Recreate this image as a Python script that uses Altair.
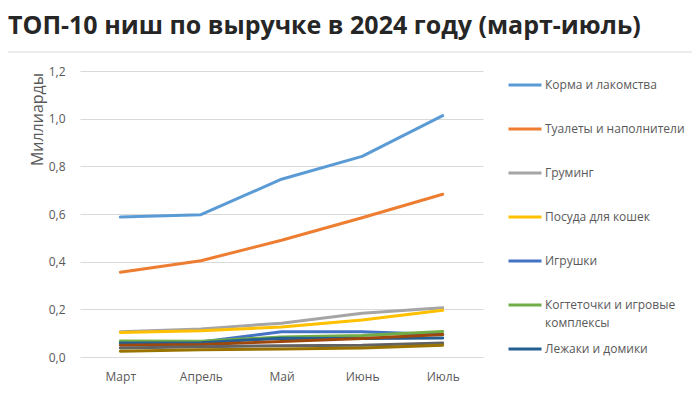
import altair as alt
import pandas as pd

months = ["Март", "Апрель", "Май", "Июнь", "Июль"]

series_names = [
    "Корма и лакомства",
    "Туалеты и наполнители",
    "Груминг",
    "Посуда для кошек",
    "Игрушки",
    "Когтеточки и игровые комплексы",
    "Лежаки и домики",
    "Ниша 8",
    "Ниша 9",
    "Ниша 10",
]

korma = [0.587, 0.597, 0.746, 0.842, 1.013]
tualety = [0.356, 0.404, 0.490, 0.584, 0.683]
gruming = [0.106, 0.118, 0.142, 0.184, 0.207]
posuda = [0.103, 0.110, 0.126, 0.155, 0.196]
igrushki = [0.063, 0.063, 0.106, 0.106, 0.094]
kogtetochki = [0.067, 0.066, 0.084, 0.090, 0.107]
lezhaki = [0.059, 0.060, 0.079, 0.078, 0.080]
nisha8 = [0.049, 0.052, 0.065, 0.078, 0.094]
nisha9 = [0.038, 0.043, 0.047, 0.049, 0.059]
nisha10 = [0.024, 0.030, 0.034, 0.038, 0.049]

colors = ["#5B9BD5", "#ED7D31", "#A5A5A5", "#FFC000", "#4472C4",
          "#70AD47", "#255E91", "#9E480E", "#636363", "#997300"]

all_values = [korma, tualety, gruming, posuda, igrushki,
              kogtetochki, lezhaki, nisha8, nisha9, nisha10]

rows = []
for name, vals in zip(series_names, all_values):
    for m, v in zip(months, vals):
        rows.append({"series": name, "month": m, "value": v})
df = pd.DataFrame(rows)

FONT = "Open Sans"
GREY = "#595959"

lines = alt.Chart(df).mark_line(strokeWidth=3, strokeCap="round", strokeJoin="round").encode(
    x=alt.X("month:N", sort=months, scale=alt.Scale(paddingOuter=0.5, paddingInner=0),
            axis=alt.Axis(title=None, labelAngle=0, domain=False, ticks=False,
                          labelPadding=14, labelFontSize=12, labelColor=GREY, labelFont=FONT)),
    y=alt.Y("value:Q", scale=alt.Scale(domain=[0, 1.2], nice=False),
            axis=alt.Axis(values=[0, 0.2, 0.4, 0.6, 0.8, 1.0, 1.2],
                          labelExpr="replace(format(datum.value, '.1f'), '.', ',')",
                          domain=False, ticks=False, labelPadding=15,
                          labelFontSize=12, labelColor=GREY, labelFont=FONT,
                          gridColor="#d9d9d9", gridWidth=1,
                          title="Миллиарды", titleFont=FONT, titleFontSize=16,
                          titleFontWeight="normal", titleColor=GREY,
                          titleX=-43, titleY=48, titleAngle=-90, titleAlign="center",
                          titleBaseline="middle")),
    color=alt.Color("series:N", sort=series_names,
                    scale=alt.Scale(domain=series_names, range=colors),
                    legend=alt.Legend(
                        title=None, orient="none", legendX=427, legendY=-4,
                        values=series_names[:7], columns=1, gridAlign="all",
                        symbolType="stroke", symbolSize=1089, symbolStrokeWidth=3,
                        labelFont=FONT, labelFontSize=12, labelColor=GREY,
                        labelOffset=2, rowPadding=2, padding=0, labelLimit=300,
                        labelExpr="datum.label == 'Когтеточки и игровые комплексы' ? ['Когтеточки и игровые', 'комплексы'] : datum.label")),
    detail="series:N",
)

frame_df = pd.DataFrame({"k": [0]})
frame = alt.Chart(frame_df).mark_rect(
    fill=None, stroke="#d9d9d9", strokeWidth=1, cornerRadius=4
).encode(
    x=alt.value(-76), x2=alt.value(640), y=alt.value(-19), y2=alt.value(340)
)

chart = alt.layer(frame, lines).properties(
    width=403, height=286,
    padding={"left": 72, "top": 63, "right": 209, "bottom": 28},
    autosize=alt.AutoSizeParams(type="none"),
    title=alt.Title(
        "ТОП-10 ниш по выручке в 2024 году (март-июль)",
        anchor="start", frame="group", font=FONT, fontSize=25, fontWeight="bold",
        color="#262626", dx=-72, offset=13,
    ),
).configure(style={"guide-label": {"lineHeight": 18}}).configure_view(strokeWidth=0)

chart.save("out.html", embed_options={"renderer": "svg", "actions": False})
